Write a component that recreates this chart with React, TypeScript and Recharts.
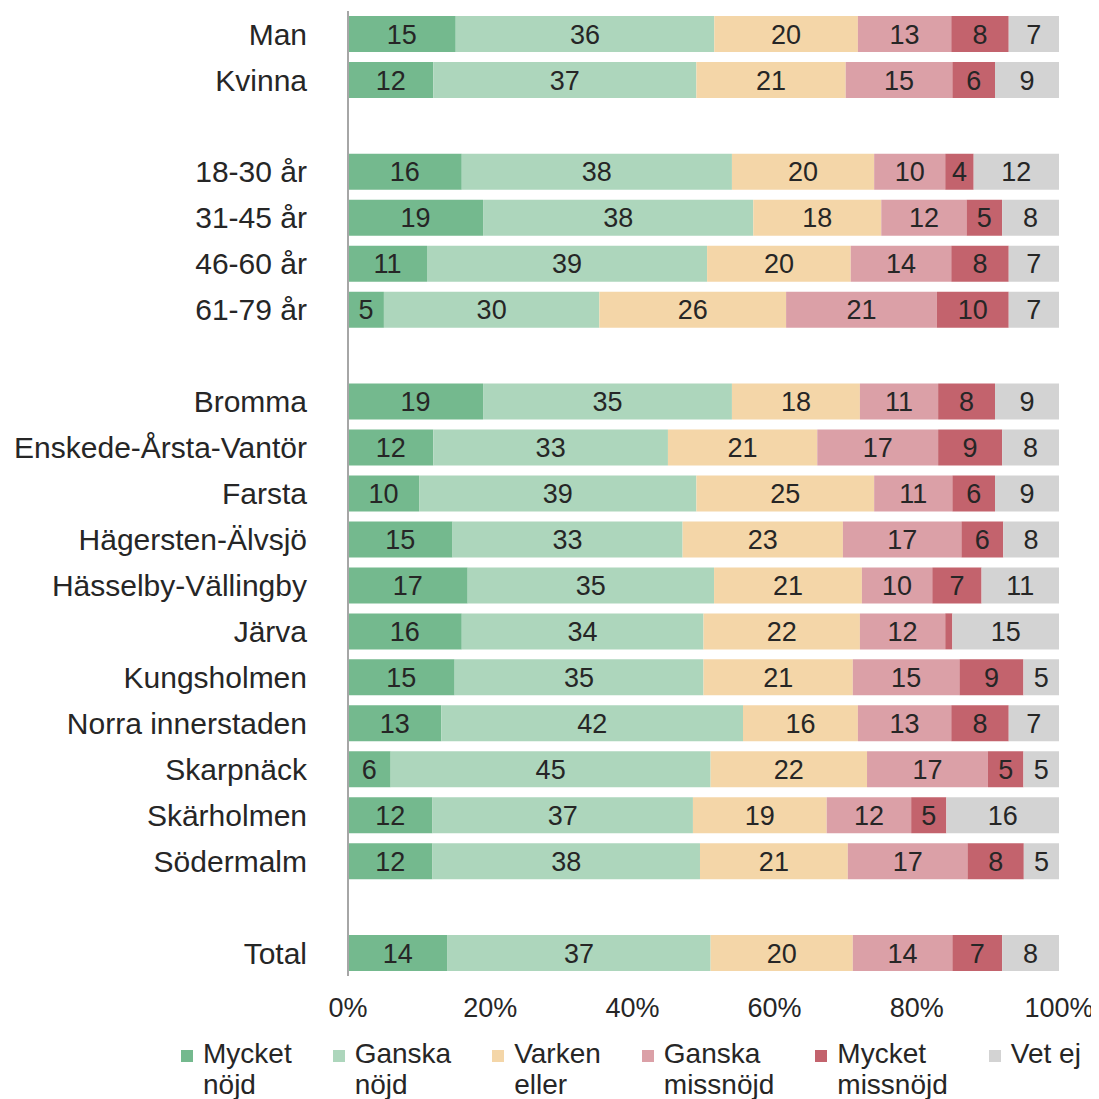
import { BarChart, Bar, XAxis, YAxis, LabelList } from 'recharts';

// row labels, blank strings are the spacer rows between groups
const categories = [
  'Man', 'Kvinna', '',
  '18-30 år', '31-45 år', '46-60 år', '61-79 år', '',
  'Bromma', 'Enskede-Årsta-Vantör', 'Farsta', 'Hägersten-Älvsjö', 'Hässelby-Vällingby',
  'Järva', 'Kungsholmen', 'Norra innerstaden', 'Skarpnäck', 'Skärholmen', 'Södermalm', '',
  'Total',
];

const mycketNojd = [15, 12, 0, 16, 19, 11, 5, 0, 19, 12, 10, 15, 17, 16, 15, 13, 6, 12, 12, 0, 14];
const ganskaNojd = [36, 37, 0, 38, 38, 39, 30, 0, 35, 33, 39, 33, 35, 34, 35, 42, 45, 37, 38, 0, 37];
const varkenEller = [20, 21, 0, 20, 18, 20, 26, 0, 18, 21, 25, 23, 21, 22, 21, 16, 22, 19, 21, 0, 20];
const ganskaMissnojd = [13, 15, 0, 10, 12, 14, 21, 0, 11, 17, 11, 17, 10, 12, 15, 13, 17, 12, 17, 0, 14];
const mycketMissnojd = [8, 6, 0, 4, 5, 8, 10, 0, 8, 9, 6, 6, 7, 1, 9, 8, 5, 5, 8, 0, 7];
const vetEj = [7, 9, 0, 12, 8, 7, 7, 0, 9, 8, 9, 8, 11, 15, 5, 7, 5, 16, 5, 0, 8];

const xTicks = [0, 0.2, 0.4, 0.6, 0.8, 1];

const series = [
  { key: 'mn', name: 'Mycket\nnöjd', values: mycketNojd, color: '#74B98E' },
  { key: 'gn', name: 'Ganska\nnöjd', values: ganskaNojd, color: '#ADD6BC' },
  { key: 've', name: 'Varken\neller', values: varkenEller, color: '#F4D6A8' },
  { key: 'gm', name: 'Ganska\nmissnöjd', values: ganskaMissnojd, color: '#DBA0A7' },
  { key: 'mm', name: 'Mycket\nmissnöjd', values: mycketMissnojd, color: '#C3636D' },
  { key: 'vet', name: 'Vet ej', values: vetEj, color: '#D3D3D3' },
];

const data = categories.map((name, i) => {
  const row: Record<string, any> = { name };
  series.forEach((s) => { row[s.key] = s.values[i]; });
  return row;
});

const FONT = '"Liberation Sans", Arial, sans-serif';
const TEXT = '#262626';

const Legendish = () => (
  <div
    style={{
      position: 'absolute', left: 173, top: 1030, display: 'flex',
      fontFamily: FONT, fontSize: 28, color: TEXT, lineHeight: '31px',
    }}
  >
    {series.map((s) => (
      <div key={s.key} style={{ display: 'flex', alignItems: 'flex-start', marginRight: 41 }}>
        <span style={{ width: 12, height: 12, background: s.color, marginTop: 12, marginRight: 10, flex: 'none' }} />
        <span style={{ whiteSpace: 'pre' }}>{s.name}</span>
      </div>
    ))}
  </div>
);

export default function App() {
  return (
    <div style={{ position: 'relative', width: 1091, height: 1091 }}>
      <style>{'html, body { overflow: hidden; } svg.recharts-surface { overflow: visible; }'}</style>
      <BarChart
        width={1091}
        height={1091}
        data={data}
        layout="vertical"
        stackOffset="expand"
        margin={{ top: 3, right: 40, bottom: 78, left: 0 }}
      >
        <XAxis
          type="number"
          domain={[0, 1]}
          ticks={xTicks}
          tickFormatter={(v: number) => `${Math.round(v * 100)}%`}
          axisLine={false}
          tickLine={false}
          tickSize={0}
          tickMargin={22}
          height={45}
          tick={{ fontSize: 27, fill: TEXT, fontFamily: FONT }}
        />
        <YAxis
          type="category"
          dataKey="name"
          width={340}
          interval={0}
          axisLine={{ stroke: '#A6A6A6', strokeWidth: 2 }}
          tickLine={false}
          tickSize={0}
          tickMargin={41}
          tick={{ fontSize: 30, fill: TEXT, fontFamily: FONT }}
        />
        {series.map((s) => (
          <Bar key={s.key} dataKey={s.key} stackId="a" fill={s.color} barSize={36} isAnimationActive={false}>
            <LabelList
              dataKey={s.key}
              position="center"
              formatter={(v: any) => (v >= 2 ? v : '')}
              style={{ fontSize: 27, fill: TEXT, fontFamily: FONT }}
            />
          </Bar>
        ))}
      </BarChart>
      <Legendish />
    </div>
  );
}
